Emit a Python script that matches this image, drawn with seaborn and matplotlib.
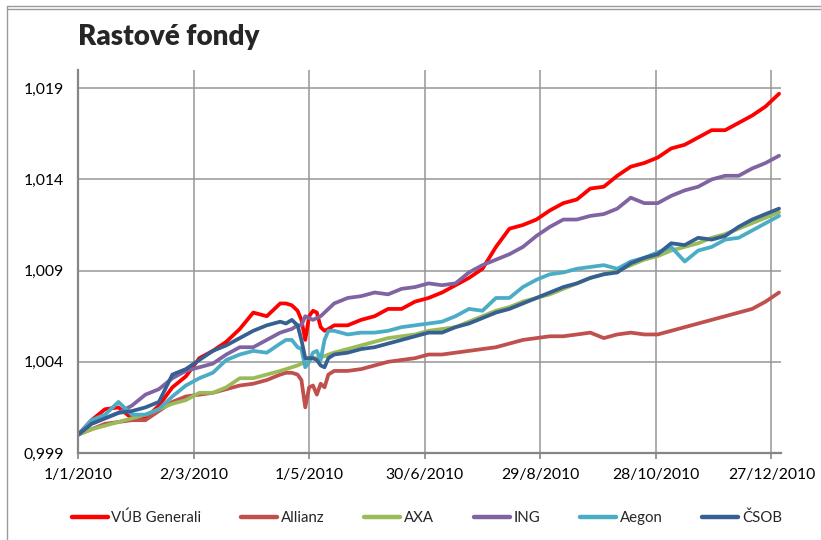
import datetime as dt
import pandas as pd
import seaborn as sns
import matplotlib.pyplot as plt
from matplotlib.lines import Line2D
from matplotlib.ticker import FuncFormatter

# days since 1/1/2010 (weekly, denser around the late-April drop)
days = [0, 7, 14, 21, 28, 35, 42, 49, 56, 63, 70, 77, 84, 91, 98, 105,
        108, 111, 114, 116, 118, 120, 122, 124, 126, 128, 130,
        133, 140, 147, 154, 161, 168, 175, 182, 189, 196, 203, 210, 217, 224, 231, 238,
        245, 252, 259, 266, 273, 280, 287, 294, 301, 308, 315, 322, 329, 336, 343, 350, 357, 364]

vub = [1.0000, 1.0008, 1.0014, 1.0015, 1.0009, 1.0009, 1.0016, 1.0026, 1.0032, 1.0042, 1.0046, 1.0051, 1.0058, 1.0067, 1.0065, 1.0072,
       1.0072, 1.0071, 1.0068, 1.0063, 1.0052, 1.0065, 1.0068, 1.0067, 1.0059, 1.0057, 1.0058,
       1.0060, 1.0060, 1.0063, 1.0065, 1.0069, 1.0069, 1.0073, 1.0075, 1.0078, 1.0082, 1.0086, 1.0091, 1.0103, 1.0113, 1.0115, 1.0118,
       1.0123, 1.0127, 1.0129, 1.0135, 1.0136, 1.0142, 1.0147, 1.0149, 1.0152, 1.0157, 1.0159, 1.0163, 1.0167, 1.0167, 1.0171, 1.0175, 1.0180, 1.0187]

allianz = [1.0000, 1.0003, 1.0006, 1.0007, 1.0008, 1.0008, 1.0013, 1.0018, 1.0021, 1.0022, 1.0023, 1.0025, 1.0027, 1.0028, 1.0030, 1.0033,
           1.0034, 1.0034, 1.0033, 1.0030, 1.0015, 1.0026, 1.0027, 1.0022, 1.0028, 1.0026, 1.0033,
           1.0035, 1.0035, 1.0036, 1.0038, 1.0040, 1.0041, 1.0042, 1.0044, 1.0044, 1.0045, 1.0046, 1.0047, 1.0048, 1.0050, 1.0052, 1.0053,
           1.0054, 1.0054, 1.0055, 1.0056, 1.0053, 1.0055, 1.0056, 1.0055, 1.0055, 1.0057, 1.0059, 1.0061, 1.0063, 1.0065, 1.0067, 1.0069, 1.0073, 1.0078]

axa = [1.0000, 1.0003, 1.0005, 1.0007, 1.0009, 1.0011, 1.0014, 1.0017, 1.0019, 1.0023, 1.0023, 1.0026, 1.0031, 1.0031, 1.0033, 1.0035,
       1.0036, 1.0037, 1.0038, 1.0039, 1.0040, 1.0041, 1.0042, 1.0042, 1.0043, 1.0043, 1.0044,
       1.0045, 1.0047, 1.0049, 1.0051, 1.0053, 1.0054, 1.0055, 1.0057, 1.0058, 1.0059, 1.0062, 1.0065, 1.0068, 1.0070, 1.0073, 1.0075,
       1.0077, 1.0080, 1.0083, 1.0086, 1.0088, 1.0090, 1.0093, 1.0096, 1.0098, 1.0101, 1.0103, 1.0105, 1.0108, 1.0110, 1.0113, 1.0116, 1.0119, 1.0122]

ing = [1.0000, 1.0006, 1.0009, 1.0012, 1.0016, 1.0022, 1.0025, 1.0031, 1.0035, 1.0037, 1.0039, 1.0044, 1.0048, 1.0048, 1.0052, 1.0056,
       1.0057, 1.0058, 1.0060, 1.0060, 1.0065, 1.0064, 1.0063, 1.0064, 1.0065, 1.0067, 1.0069,
       1.0072, 1.0075, 1.0076, 1.0078, 1.0077, 1.0080, 1.0081, 1.0083, 1.0082, 1.0083, 1.0089, 1.0093, 1.0096, 1.0099, 1.0103, 1.0109,
       1.0114, 1.0118, 1.0118, 1.0120, 1.0121, 1.0124, 1.0130, 1.0127, 1.0127, 1.0131, 1.0134, 1.0136, 1.0140, 1.0142, 1.0142, 1.0146, 1.0149, 1.0153]

aegon = [1.0000, 1.0008, 1.0011, 1.0018, 1.0011, 1.0011, 1.0014, 1.0021, 1.0027, 1.0031, 1.0034, 1.0041, 1.0044, 1.0046, 1.0045, 1.0050,
         1.0052, 1.0052, 1.0048, 1.0047, 1.0037, 1.0040, 1.0045, 1.0046, 1.0041, 1.0052, 1.0057,
         1.0057, 1.0055, 1.0056, 1.0056, 1.0057, 1.0059, 1.0060, 1.0061, 1.0062, 1.0065, 1.0069, 1.0068, 1.0075, 1.0075, 1.0081, 1.0085,
         1.0088, 1.0089, 1.0091, 1.0092, 1.0093, 1.0091, 1.0095, 1.0097, 1.0100, 1.0103, 1.0095, 1.0101, 1.0103, 1.0107, 1.0108, 1.0112, 1.0116, 1.0120]

csob = [1.0000, 1.0006, 1.0009, 1.0012, 1.0013, 1.0015, 1.0018, 1.0033, 1.0036, 1.0041, 1.0046, 1.0049, 1.0053, 1.0057, 1.0060, 1.0062,
        1.0061, 1.0063, 1.0060, 1.0052, 1.0042, 1.0042, 1.0042, 1.0041, 1.0038, 1.0037, 1.0042,
        1.0044, 1.0045, 1.0047, 1.0048, 1.0050, 1.0052, 1.0054, 1.0056, 1.0056, 1.0059, 1.0061, 1.0064, 1.0067, 1.0069, 1.0072, 1.0075,
        1.0078, 1.0081, 1.0083, 1.0086, 1.0088, 1.0089, 1.0094, 1.0097, 1.0099, 1.0105, 1.0104, 1.0108, 1.0107, 1.0109, 1.0114, 1.0118, 1.0121, 1.0124]

funds = ['VÚB Generali', 'Allianz', 'AXA', 'ING', 'Aegon', 'ČSOB']
colors = ['#FF0000', '#C0504D', '#9BBB59', '#8064A2', '#4BACC6', '#376092']

start = dt.datetime(2010, 1, 1)
dates = [start + dt.timedelta(days=d) for d in days]

df = pd.DataFrame({'date': dates, 'VÚB Generali': vub, 'Allianz': allianz, 'AXA': axa,
                   'ING': ing, 'Aegon': aegon, 'ČSOB': csob})
long_df = df.melt(id_vars='date', var_name='fund', value_name='value')

sns.set_style('white')
plt.rcParams['font.family'] = ['Lato', 'DejaVu Sans']

fig = plt.figure(figsize=(8.21, 5.40), dpi=100)
ax = fig.add_axes([78 / 821, 1 - 453 / 540, 703 / 821, 383 / 540])

sns.lineplot(data=long_df, x='date', y='value', hue='fund', hue_order=funds,
             palette=colors, linewidth=2.7, ax=ax, legend=False)

# axes styling
ax.set_xlim(start, start + dt.timedelta(days=365))
ax.set_ylim(0.999, 1.020)
ax.set_yticks([0.999, 1.004, 1.009, 1.014, 1.019])
ax.yaxis.set_major_formatter(FuncFormatter(lambda v, p: f'{v:.3f}'.replace('.', ',')))
xticks = [start + dt.timedelta(days=60 * i) for i in range(7)]
ax.set_xticks(xticks)
ax.set_xticklabels([f'{d.day}/{d.month}/{d.year}' for d in xticks])
ax.set_xlabel('')
ax.set_ylabel('')
ax.grid(True, color='#969696', linewidth=1.1)
ax.set_axisbelow(True)
for s in ['top', 'right']:
    ax.spines[s].set_visible(False)
for s in ['left', 'bottom']:
    ax.spines[s].set_color('#868686')
    ax.spines[s].set_linewidth(1.6)
ax.tick_params(axis='x', length=4, width=1.2, color='#868686', pad=7, labelsize=11.3, labelcolor='black')
ax.tick_params(axis='y', length=0, pad=10, labelsize=11.3, labelcolor='black')
ax.xaxis.set_ticks_position('bottom')

fig.text(78 / 821, 1 - 37 / 540, 'Rastové fondy', fontsize=20, fontweight='heavy', va='center', ha='left')

handles = [Line2D([0], [0], color=c, linewidth=3.2) for c in colors]
fig.legend(handles, funds, loc='center', bbox_to_anchor=(0.52, 1 - 518 / 540), ncol=6,
           frameon=False, fontsize=10.8, handlelength=2.4, handletextpad=0.25, columnspacing=2.65)

# chart frame
fig.add_artist(Line2D([7 / 821, 1], [1 - 6 / 540, 1 - 6 / 540], color='#9a9a9a', linewidth=1))
fig.add_artist(Line2D([7 / 821, 1], [1 - 8.5 / 540, 1 - 8.5 / 540], color='#9a9a9a', linewidth=1))
fig.add_artist(Line2D([7 / 821, 7 / 821], [0, 1 - 6 / 540], color='#9a9a9a', linewidth=1))

fig.savefig('out.png', dpi=100)
